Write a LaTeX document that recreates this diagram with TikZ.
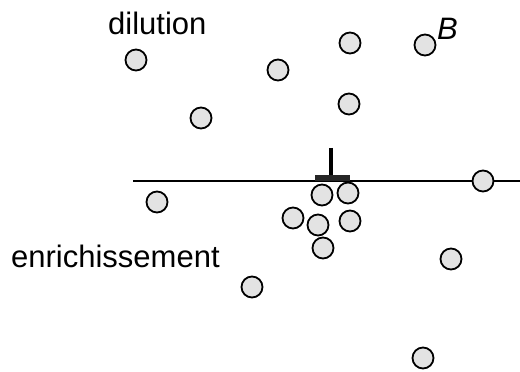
\documentclass[tikz,border=0pt]{standalone}
\usepackage{fontspec}
\setmainfont{Liberation Sans}
\usepackage{tikz}
\usetikzlibrary{positioning}

\begin{document}
\begin{tikzpicture}[
    x=1pt, y=1pt,
    ball style/.style={circle, draw=black, line width=1.8pt, fill=gray!22, minimum size=21pt, inner sep=0pt},
    label style/.style={font=\fontsize{31}{37}\selectfont, inner sep=0pt},
    line style/.style={line width=1.3pt, black},
    bar style/.style={rectangle, fill=black!85, minimum width=35pt, minimum height=6pt, inner sep=0pt}
]
\useasboundingbox (0,0) rectangle (520,372);

% Draw the surface line and the pin
\coordinate (lineL) at (133,191);
\coordinate (lineR) at (520,191);
\draw[line style] (lineL) -- (lineR);
\node[bar style, anchor=south] (bar) at (332.5,191) {};
\coordinate (pinTop) at (331,224);
\draw[line width=3.5pt] (pinTop) -- (bar.north -| pinTop);

% Draw the particles
\foreach \n/\x/\y in {1/136/312, 2/201/254, 3/278/302, 4/350/329, 5/349/268,
    6/425/327, 7/157/170, 8/322/177, 9/348/179, 10/293/154, 11/318/147,
    12/350/151, 13/323/124, 14/483/191, 15/451/113, 16/252/85, 17/423/14} {
    \node[ball style] (c\n) at (\x,\y) {};
}

% Add the labels
\node[label style, anchor=base west] (dil) at (108,337) {dilution};
\node[label style, anchor=base west] (enr) at (11,104) {enrichissement};
\node[label style, anchor=base west] (lblB) at (437,332) {\itshape B};
\end{tikzpicture}
\end{document}
